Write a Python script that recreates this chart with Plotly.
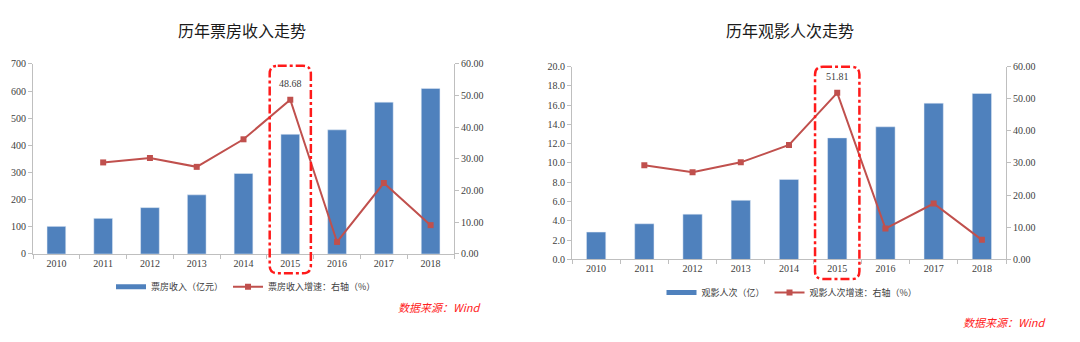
import plotly.graph_objects as go

W, H = 1080, 342

years = ["2010", "2011", "2012", "2013", "2014", "2015", "2016", "2017", "2018"]
box_office = [101.7, 131.2, 170.7, 217.7, 296.4, 440.7, 457.1, 559.1, 609.8]
box_growth = [None, 28.9, 30.3, 27.5, 36.2, 48.68, 3.8, 22.4, 9.1]
admissions = [2.84, 3.7, 4.7, 6.13, 8.3, 12.6, 13.75, 16.2, 17.2]
adm_growth = [None, 29.3, 27.1, 30.2, 35.6, 51.81, 9.6, 17.4, 6.1]
highlight_year = "2015"

BLUE = "#4F81BD"
RED = "#C0504D"
AXIS = "#BFBFBF"
TICK_FONT = dict(family="Liberation Serif, Times New Roman, serif", size=10, color="#404040")
CJK = "Noto Sans CJK SC, sans-serif"

idx = list(range(len(years)))


def px_x(p):
    return p / W


def px_y(p):
    return 1 - p / H


# layout in pixels
L_X = (33, 454)
L_Y = (60, 257)
R_X = (572, 1006)
R_Y = (62.7, 262.7)

fig = go.Figure()


def add_pair(bars, growth, bar_name, line_name, xa, ya, ya2, leg):
    fig.add_trace(go.Bar(x=idx, y=bars, name=bar_name, marker_color=BLUE, width=0.4,
                         xaxis=xa, yaxis=ya, showlegend=False))
    # legend proxy with a wide flat swatch like the original
    fig.add_trace(go.Scatter(x=[None], y=[None], name=bar_name, mode="lines",
                             line=dict(color=BLUE, width=5), xaxis=xa, yaxis=ya, legend=leg))
    fig.add_trace(go.Scatter(x=idx, y=growth, name=line_name, mode="lines+markers",
                             line=dict(color=RED, width=2),
                             marker=dict(symbol="square", size=6, color=RED),
                             xaxis=xa, yaxis=ya2, legend=leg))


add_pair(box_office, box_growth, "票房收入（亿元）", "票房收入增速：右轴（%）", "x", "y", "y2", "legend")
add_pair(admissions, adm_growth, "观影人次（亿）", "观影人次增速：右轴（%）", "x2", "y3", "y4", "legend2")

bounds = [i - 0.5 for i in range(len(years) + 1)]
xcommon = dict(type="linear", range=[-0.5, len(years) - 0.5], tickvals=idx, ticktext=years,
               tickangle=0, showline=True, linecolor=AXIS, ticks="", tickfont=TICK_FONT,
               showgrid=False, zeroline=False, fixedrange=True,
               minor=dict(tickvals=bounds, ticks="outside", ticklen=4, tickcolor=AXIS, showgrid=False))
ycommon = dict(showline=True, linecolor=AXIS, ticks="outside", tickcolor=AXIS, ticklen=4,
               tickfont=TICK_FONT, showgrid=False, zeroline=False, fixedrange=True)

legfont = dict(family=CJK, size=9, color="#404040")
fig.update_layout(
    width=W, height=H,
    margin=dict(l=0, r=0, t=0, b=0),
    paper_bgcolor="white", plot_bgcolor="white",
    xaxis=dict(domain=[px_x(L_X[0]), px_x(L_X[1])], anchor="y", **xcommon),
    yaxis=dict(domain=[px_y(L_Y[1]), px_y(L_Y[0])], anchor="x", range=[0, 700], dtick=100, **ycommon),
    yaxis2=dict(overlaying="y", side="right", anchor="x", range=[0, 60], dtick=10,
                tickformat=".2f", **ycommon),
    xaxis2=dict(domain=[px_x(R_X[0]), px_x(R_X[1])], anchor="y3", **xcommon),
    yaxis3=dict(domain=[px_y(R_Y[1]), px_y(R_Y[0])], anchor="x2", range=[0, 20], dtick=2,
                tickformat=".1f", **ycommon),
    yaxis4=dict(overlaying="y3", side="right", anchor="x2", range=[0, 60], dtick=10,
                tickformat=".2f", **ycommon),
    legend=dict(orientation="h", x=px_x(246), xanchor="center", y=px_y(291), yanchor="middle",
                font=legfont, bgcolor="rgba(0,0,0,0)", itemwidth=30, traceorder="normal"),
    legend2=dict(orientation="h", x=px_x(792), xanchor="center", y=px_y(297), yanchor="middle",
                 font=legfont, bgcolor="rgba(0,0,0,0)", itemwidth=30, traceorder="normal"),
)

annotations = [
    dict(text="历年票房收入走势", x=px_x(242), y=px_y(25), xref="paper", yref="paper",
         showarrow=False, font=dict(family=CJK, size=16, color="#1a1a1a"), xanchor="center", yanchor="middle"),
    dict(text="历年观影人次走势", x=px_x(790), y=px_y(25), xref="paper", yref="paper",
         showarrow=False, font=dict(family=CJK, size=16, color="#1a1a1a"), xanchor="center", yanchor="middle"),
    dict(text="数据来源：Wind", x=px_x(482), y=px_y(312), xref="paper", yref="paper",
         showarrow=False, font=dict(family=CJK, size=11, color="#FF2020", style="italic"),
         xanchor="right", yanchor="middle"),
    dict(text="数据来源：Wind", x=px_x(1047), y=px_y(328), xref="paper", yref="paper",
         showarrow=False, font=dict(family=CJK, size=11, color="#FF2020", style="italic"),
         xanchor="right", yanchor="middle"),
]
hi = years.index(highlight_year)
annotations.append(dict(text=f"{box_growth[hi]:.2f}", x=hi, y=box_growth[hi], xref="x", yref="y2",
                        showarrow=False, yshift=16, font=TICK_FONT))
annotations.append(dict(text=f"{adm_growth[hi]:.2f}", x=hi, y=adm_growth[hi], xref="x2", yref="y4",
                        showarrow=False, yshift=16, font=TICK_FONT))
fig.update_layout(annotations=annotations)


def rounded_box(xdom, i, half_frac, top_px, bottom_px, r=8):
    cw = (xdom[1] - xdom[0]) / len(years)
    cx = xdom[0] + (i + 0.5) * cw
    x0, x1 = cx - half_frac * cw, cx + half_frac * cw
    y0, y1 = top_px, bottom_px
    pts = lambda x, y: f"{px_x(x):.5f},{px_y(y):.5f}"
    return (f"M {pts(x0 + r, y0)} L {pts(x1 - r, y0)} Q {pts(x1, y0)} {pts(x1, y0 + r)} "
            f"L {pts(x1, y1 - r)} Q {pts(x1, y1)} {pts(x1 - r, y1)} "
            f"L {pts(x0 + r, y1)} Q {pts(x0, y1)} {pts(x0, y1 - r)} "
            f"L {pts(x0, y0 + r)} Q {pts(x0, y0)} {pts(x0 + r, y0)} Z")


for xdom, top, bot, half in [(L_X, 62, 277, 0.44), (R_X, 63, 283, 0.46)]:
    fig.add_shape(type="path", path=rounded_box(xdom, hi, half, top, bot), xref="paper", yref="paper",
                  line=dict(color="#FF1A1A", width=2.5, dash="dashdot"), layer="above")

fig.write_html("out.html")
